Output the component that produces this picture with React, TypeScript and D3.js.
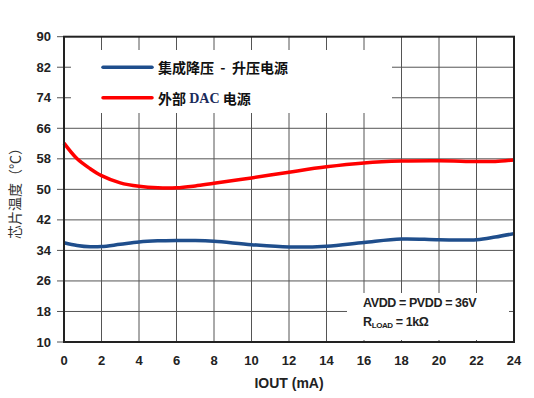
import * as d3 from "d3";

// IOUT (mA) sample points
const iout = [0, 0.7, 1.4, 2, 3, 4, 5, 6, 7, 8, 10, 12, 14, 16, 18, 20, 22, 23, 24];
// 集成降压-升压电源 (blue)
const tempIntegrated = [36.0, 35.3, 34.95, 35.0, 35.6, 36.2, 36.5, 36.6, 36.6, 36.4, 35.5, 34.9, 35.1, 36.1, 37.0, 36.8, 36.8, 37.5, 38.4];
// 外部 DAC 电源 (red)
const tempExternal = [62.1, 58.0, 55.4, 53.6, 51.7, 50.8, 50.4, 50.4, 50.9, 51.6, 53.0, 54.5, 55.9, 56.9, 57.4, 57.5, 57.3, 57.3, 57.7];

const xTicks = [0, 2, 4, 6, 8, 10, 12, 14, 16, 18, 20, 22, 24];
const yTicks = [10, 18, 26, 34, 42, 50, 58, 66, 74, 82, 90];

const W = 534;
const H = 398;
const left = 64;
const right = 514;
const top = 36.7;
const bottom = 342;

export default function App() {
  const x = d3.scaleLinear().domain([0, 24]).range([left, right]);
  const y = d3.scaleLinear().domain([10, 90]).range([bottom, top]);

  const line = d3
    .line<number>()
    .x((_, i) => x(iout[i]))
    .y((d) => y(d))
    .curve(d3.curveCatmullRom);

  const tickFont = "'Liberation Sans', Arial, sans-serif";
  const cjk = "'Noto Sans CJK SC', sans-serif";

  return (
    <svg
      width={W}
      height={H}
      style={{ position: "absolute", left: 0, top: 0, background: "#fff" }}
    >
      {/* grid */}
      <g stroke="#555" strokeWidth={1}>
        {xTicks.slice(1, -1).map((t) => (
          <line key={"gx" + t} x1={x(t)} x2={x(t)} y1={top} y2={bottom} />
        ))}
        {yTicks.slice(1, -1).map((t) => (
          <line key={"gy" + t} x1={left} x2={right} y1={y(t)} y2={y(t)} />
        ))}
      </g>
      {/* y ticks outside */}
      <g stroke="#555" strokeWidth={1}>
        {yTicks.map((t) => (
          <line key={"ty" + t} x1={left - 7} x2={left} y1={y(t)} y2={y(t)} />
        ))}
      </g>

      {/* white panels behind legend and note */}
      <rect x={71} y={50} width={321} height={63} fill="#fff" />
      <rect x={347} y={293} width={162} height={47} fill="#fff" />

      {/* curves */}
      <path d={line(tempExternal) || ""} fill="none" stroke="#ff0000" strokeWidth={3.5} />
      <path d={line(tempIntegrated) || ""} fill="none" stroke="#1f4e8c" strokeWidth={3.5} />

      {/* frame */}
      <rect
        x={left}
        y={top}
        width={right - left}
        height={bottom - top}
        fill="none"
        stroke="#222"
        strokeWidth={2}
      />

      {/* tick labels */}
      <g fontFamily={tickFont} fontWeight="bold" fontSize={13} fill="#222">
        {yTicks.map((t) => (
          <text key={"ly" + t} x={51} y={y(t)} textAnchor="end" dominantBaseline="central">
            {t}
          </text>
        ))}
        {xTicks.map((t) => (
          <text key={"lx" + t} x={x(t)} y={360} textAnchor="middle" dominantBaseline="central">
            {t}
          </text>
        ))}
        <text x={(left + right) / 2} y={383} textAnchor="middle" dominantBaseline="central" fontSize={14}>
          IOUT (mA)
        </text>
      </g>

      {/* y axis title */}
      <text
        transform="translate(14,190) rotate(-90)"
        textAnchor="middle"
        dominantBaseline="central"
        fontFamily={cjk}
        fontSize={14}
        fill="#333"
      >
        芯片温度（℃）
      </text>

      {/* legend */}
      <line x1={103} x2={152} y1={y(82)} y2={y(82)} stroke="#1f4e8c" strokeWidth={3.5} strokeLinecap="round" />
      <line x1={103} x2={152} y1={y(74)} y2={y(74)} stroke="#ff0000" strokeWidth={3.5} strokeLinecap="round" />
      <g fontFamily={cjk} fontWeight="bold" fontSize={14} fill="#111">
        <text x={158} y={y(82)} dominantBaseline="central">
          {"集成降压\u00A0\u00A0-\u00A0\u00A0升压电源"}
        </text>
        <text x={158} y={y(74)} dominantBaseline="central">
          外部 <tspan fill="#1a2a5a" fontFamily="'Liberation Serif', serif">DAC</tspan> 电源
        </text>
      </g>

      {/* note */}
      <g fontFamily={tickFont} fontWeight="bold" fontSize={12.5} fill="#222">
        <text x={363} y={303} dominantBaseline="central" letterSpacing={-0.4}>
          AVDD = PVDD = 36V
        </text>
        <text x={363} y={322} dominantBaseline="central" letterSpacing={-0.4}>
          R<tspan fontSize={8} dy={3}>LOAD</tspan>
          <tspan dy={-3}> = 1kΩ</tspan>
        </text>
      </g>
    </svg>
  );
}
